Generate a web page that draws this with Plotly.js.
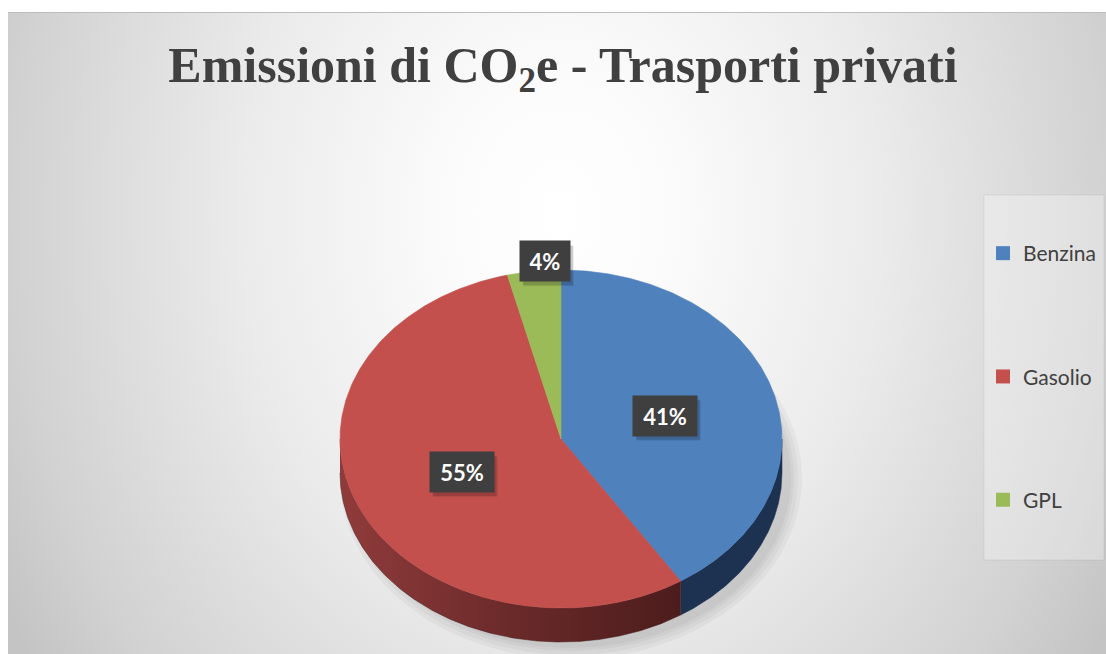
<!DOCTYPE html>
<html><head><meta charset="utf-8">
<script src="https://cdn.plot.ly/plotly-3.0.1.min.js"></script>
<style>
html,body{margin:0;padding:0;background:#fff;}
#wrap{position:relative;width:1106px;height:654px;overflow:hidden;}
#bg{position:absolute;left:8px;top:12px;width:1098px;height:642px;border-top:1px solid #bcbcbc;box-sizing:border-box;
background:radial-gradient(ellipse 640px 800px at 552px 200px,#ffffff 0%,#fbfbfb 18%,#ebebeb 50%,#d2d2d2 85%,#c4c4c4 100%);}
#chart{position:absolute;left:0;top:0;width:1106px;height:654px;}
</style></head><body>
<div id="wrap"><div id="bg"></div><div id="chart"></div></div>
<script>
// ---- data ----
const categories = ['Benzina', 'Gasolio', 'GPL'];
const values = [40.9, 55.2, 3.9];

// ---- style ----
const topColors = ['#4f81bd', '#c4504e', '#9bbb59'];
const sideFills = [
  {color: '#1d3150'},
  {gradient: [[0, '#903b3b'], [0.5, '#6b2a2a'], [1, '#4c1c1c']]},
  {color: '#5f7a30'}
];
const W = 1106, H = 654;
const CX = 561, CY = 439, RX = 221, RY = 169, DEPTH = 34;

const deg = Math.PI / 180;
function ex(a, k) { return CX + (k || 1) * RX * Math.cos(a * deg); }
function ey(a, k, dy) { return CY + (dy || 0) - (k || 1) * RY * Math.sin(a * deg); }
function arc(a0, a1, dy) {
  const n = Math.max(2, Math.ceil(Math.abs(a1 - a0) / 0.5));
  const xs = [], ys = [];
  for (let i = 0; i <= n; i++) {
    const a = a0 + (a1 - a0) * i / n;
    xs.push(ex(a)); ys.push(ey(a, 1, dy));
  }
  return {xs, ys};
}

const total = values.reduce((s, v) => s + v, 0);
let ang = 90;
const slices = values.map(v => {
  const span = v / total * 360;
  const s = {a0: ang, a1: ang - span, mid: ang - span / 2, pct: Math.round(v / total * 100) + '%', frac: v / total};
  ang -= span;
  return s;
});

const traces = [];
// soft shadow
[14, 10, 6, 3].forEach(k => {
  const xs = [], ys = [];
  for (let a = 0; a <= 360; a += 2) {
    xs.push(CX + 10 + (RX + k - 4) * Math.cos(a * deg));
    ys.push(CY + DEPTH + 5 - (RY + k - 2) * Math.sin(a * deg));
  }
  traces.push({type: 'scatter', mode: 'lines', x: xs, y: ys, fill: 'toself',
    fillcolor: 'rgba(0,0,0,0.035)', line: {width: 0}, hoverinfo: 'skip', showlegend: false});
});

// side walls (front half only)
slices.forEach((s, i) => {
  const lo = Math.max(s.a1, -180), hi = Math.min(s.a0, 0);
  if (lo >= hi) return;
  const top = arc(lo, hi, 0), bot = arc(hi, lo, DEPTH);
  const t = {type: 'scatter', mode: 'lines', x: top.xs.concat(bot.xs), y: top.ys.concat(bot.ys),
    fill: 'toself', line: {width: 0.5, color: sideFills[i].color || '#4c1c1c'}, hoverinfo: 'skip', showlegend: false};
  if (sideFills[i].gradient) {
    t.fillgradient = {type: 'horizontal', colorscale: sideFills[i].gradient};
  } else {
    t.fillcolor = sideFills[i].color;
  }
  traces.push(t);
});

// top faces
slices.forEach((s, i) => {
  const a = arc(s.a0, s.a1, 0);
  traces.push({type: 'scatter', mode: 'lines', x: [CX].concat(a.xs, [CX]), y: [CY].concat(a.ys, [CY]),
    fill: 'toself', fillcolor: topColors[i], line: {width: 0.6, color: topColors[i]},
    hoverinfo: 'skip', showlegend: false});
});

// legend entries
categories.forEach((c, i) => {
  traces.push({type: 'scatter', mode: 'markers', x: [null], y: [null], name: c, legendgroup: c,
    marker: {symbol: 'square', size: 14, color: topColors[i]}, showlegend: true, hoverinfo: 'skip'});
});

// labels (with soft box shadow as shapes)
const annotations = [];
const shapes = [{type: 'rect', xref: 'paper', yref: 'paper', x0: 984 / W, x1: 1104 / W, y0: 1 - 560 / H, y1: 1 - 195 / H,
  fillcolor: 'rgba(255,255,255,0.3)', line: {color: 'rgba(0,0,0,0.06)', width: 1}, layer: 'below'}];
slices.forEach(s => {
  const outside = s.frac < 0.08;
  const x = outside ? ex(s.mid, 0.6) : ex(s.mid, 0.49);
  const y = outside ? ey(s.mid, 1.06) : ey(s.mid, 0.49);
  const w = 14 * s.pct.length + 10;
  const bw = w + 12, bh = 40;
  [[3, 4, 0.14], [4, 5, 0.08]].forEach(([dx, dy, op]) => {
    shapes.push({type: 'rect', xref: 'x', yref: 'y', x0: x - bw / 2 + dx, x1: x + bw / 2 + dx,
      y0: y - bh / 2 + dy, y1: y + bh / 2 + dy, fillcolor: 'rgba(0,0,0,' + op + ')', line: {width: 0}, layer: 'above'});
  });
  annotations.push({x, y, xref: 'x', yref: 'y', text: '<b>' + s.pct + '</b>', showarrow: false,
    width: w, height: 28, borderpad: 6, bgcolor: '#3f3f3f',
    font: {family: 'Lato', size: 22, color: '#ffffff'}});
});

const layout = {
  width: W, height: H,
  margin: {l: 0, r: 0, t: 0, b: 0, pad: 0},
  paper_bgcolor: 'rgba(0,0,0,0)', plot_bgcolor: 'rgba(0,0,0,0)',
  xaxis: {range: [0, W], visible: false, fixedrange: true},
  yaxis: {range: [H, 0], visible: false, fixedrange: true},
  title: {text: '<b>Emissioni di CO<sub>2</sub>e - Trasporti privati</b>',
    font: {family: 'Liberation Serif', size: 50, color: '#404040'},
    x: 563 / W, xanchor: 'center', y: 1 - 64 / H, yanchor: 'middle', xref: 'paper', yref: 'paper'},
  showlegend: true,
  legend: {x: 983 / W, xanchor: 'left', y: 1 - 233 / H, yanchor: 'top',
    bgcolor: 'rgba(0,0,0,0)', traceorder: 'grouped', tracegroupgap: 93,
    font: {family: 'Lato', size: 21, color: '#404040'}},
  shapes,
  annotations
};

Plotly.newPlot('chart', traces, layout, {staticPlot: true, displayModeBar: false});
</script>
</body></html>
